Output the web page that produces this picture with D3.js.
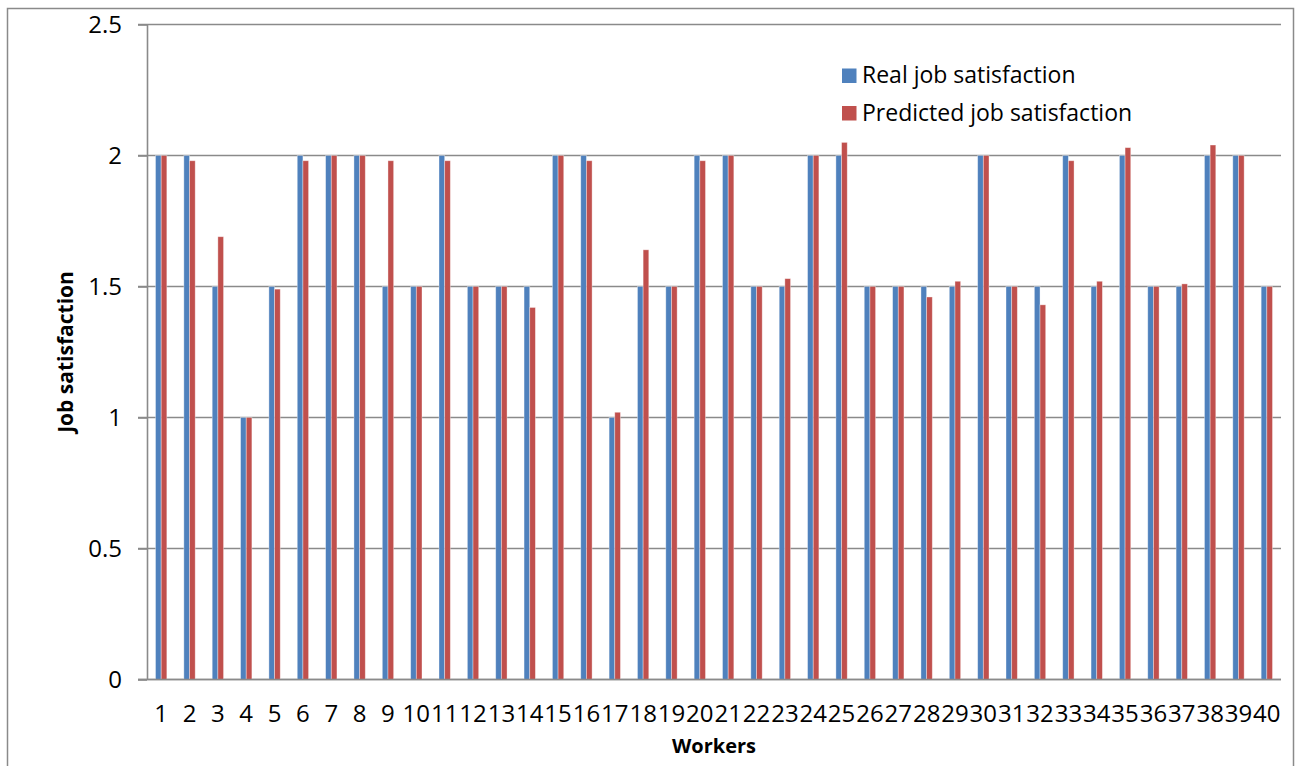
<!DOCTYPE html>
<html>
<head>
<meta charset="utf-8">
<script src="https://cdn.jsdelivr.net/npm/d3@7"></script>
<style>
  html, body { margin: 0; padding: 0; background: #ffffff; }
  svg { display: block; }
  text { font-family: "Open Sans", "Noto Sans", sans-serif; fill: #000; }
</style>
</head>
<body>
<svg id="chart" width="1301" height="766"></svg>
<script>
// Worker ids shown along the x axis
const workers = ["1","2","3","4","5","6","7","8","9","10",
                 "11","12","13","14","15","16","17","18","19","20",
                 "21","22","23","24","25","26","27","28","29","30",
                 "31","32","33","34","35","36","37","38","39","40"];

// Observed job satisfaction per worker
const realSatisfaction = [2, 2, 1.5, 1, 1.5, 2, 2, 2, 1.5, 1.5,
                          2, 1.5, 1.5, 1.5, 2, 2, 1, 1.5, 1.5, 2,
                          2, 1.5, 1.5, 2, 2, 1.5, 1.5, 1.5, 1.5, 2,
                          1.5, 1.5, 2, 1.5, 2, 1.5, 1.5, 2, 2, 1.5];

// Model output per worker
const predictedSatisfaction = [2, 1.98, 1.69, 1, 1.49, 1.98, 2, 2, 1.98, 1.5,
                               1.98, 1.5, 1.5, 1.42, 2, 1.98, 1.02, 1.64, 1.5, 1.98,
                               2, 1.5, 1.53, 2, 2.05, 1.5, 1.5, 1.46, 1.52, 2,
                               1.5, 1.43, 1.98, 1.52, 2.03, 1.5, 1.51, 2.04, 2, 1.5];

const yTicks = [0, 0.5, 1, 1.5, 2, 2.5];
const seriesNames = ["Real job satisfaction", "Predicted job satisfaction"];
const seriesColors = ["#4F81BD", "#C0504D"];
const xTitle = "Workers";
const yTitle = "Job satisfaction";

const svg = d3.select("#chart");
const plot = { left: 147, right: 1281, top: 24.5, bottom: 679.5 };
const gridColor = "#8a8a8a";

// Chart frame
svg.append("rect")
  .attr("x", 7.5).attr("y", 8.5)
  .attr("width", 1286).attr("height", 770)
  .attr("fill", "#fff")
  .attr("stroke", gridColor).attr("stroke-width", 1.5);

const x = d3.scaleBand().domain(workers).range([plot.left, plot.right]).padding(0);
const y = d3.scaleLinear().domain([0, 2.5]).range([plot.bottom, plot.top]);

// Two bars per worker, gap width 150% of a bar pair
const groupWidth = x.bandwidth() / 2.5;
const xSeries = d3.scaleBand().domain([0, 1]).range([0, groupWidth]).padding(0);
const groupOffset = (x.bandwidth() - groupWidth) / 2;

// Horizontal gridlines (extend left into tick marks)
svg.append("g")
  .selectAll("line")
  .data(yTicks)
  .join("line")
  .attr("x1", plot.left - 9).attr("x2", plot.right)
  .attr("y1", d => y(d)).attr("y2", d => y(d))
  .attr("stroke", gridColor).attr("stroke-width", 1.6);

// Y axis with labels
const yAxis = svg.append("g")
  .attr("transform", `translate(${plot.left},0)`)
  .call(d3.axisLeft(y).tickValues(yTicks).tickFormat(d => String(d))
    .tickSizeInner(9).tickSizeOuter(0).tickPadding(16));
yAxis.select(".domain").attr("stroke", gridColor).attr("stroke-width", 1.6);
yAxis.selectAll(".tick line").attr("stroke", gridColor).attr("stroke-width", 1.6);
yAxis.selectAll("text").style("font-size", "24px").style("font-family", "'Open Sans'").attr("fill", "#000");

// Bars
const rows = workers.map((w, i) => ({ worker: w, values: [realSatisfaction[i], predictedSatisfaction[i]] }));
const groups = svg.append("g")
  .selectAll("g")
  .data(rows)
  .join("g")
  .attr("transform", d => `translate(${x(d.worker) + groupOffset},0)`);

groups.selectAll("rect")
  .data(d => d.values.map((v, s) => ({ v, s })))
  .join("rect")
  .attr("x", d => xSeries(d.s))
  .attr("width", xSeries.bandwidth())
  .attr("y", d => y(d.v))
  .attr("height", d => y(0) - y(d.v))
  .attr("fill", d => seriesColors[d.s])
  .attr("stroke", "rgba(255,255,255,0.45)")
  .attr("stroke-width", 0.8);

// Baseline drawn over bar feet
svg.append("line")
  .attr("x1", plot.left - 9).attr("x2", plot.right)
  .attr("y1", y(0)).attr("y2", y(0))
  .attr("stroke", gridColor).attr("stroke-width", 1.6);

// X axis labels
const xAxis = svg.append("g")
  .attr("transform", `translate(0,${plot.bottom})`)
  .call(d3.axisBottom(x).tickSize(0).tickPadding(25));
xAxis.select(".domain").remove();
xAxis.selectAll("text").style("font-size", "24px").style("font-family", "'Open Sans'").attr("fill", "#000");

// Axis titles
svg.append("text")
  .attr("x", (plot.left + plot.right) / 2)
  .attr("y", 753)
  .attr("text-anchor", "middle")
  .style("font-size", "20px").style("font-weight", "bold")
  .text(xTitle);

svg.append("text")
  .attr("transform", `translate(73,${(plot.top + plot.bottom) / 2}) rotate(-90)`)
  .attr("text-anchor", "middle")
  .style("font-size", "21px").style("font-weight", "bold")
  .text(yTitle);

// Legend
const legend = svg.append("g").attr("transform", "translate(842,0)");
const legendBaselines = [83.3, 120.8];
seriesNames.forEach((name, i) => {
  legend.append("rect")
    .attr("x", 0).attr("y", legendBaselines[i] - 14.8)
    .attr("width", 14.5).attr("height", 14.5)
    .attr("fill", seriesColors[i]);
  legend.append("text")
    .attr("x", 20).attr("y", legendBaselines[i])
    .style("font-size", "23px")
    .text(name);
});
</script>
</body>
</html>
